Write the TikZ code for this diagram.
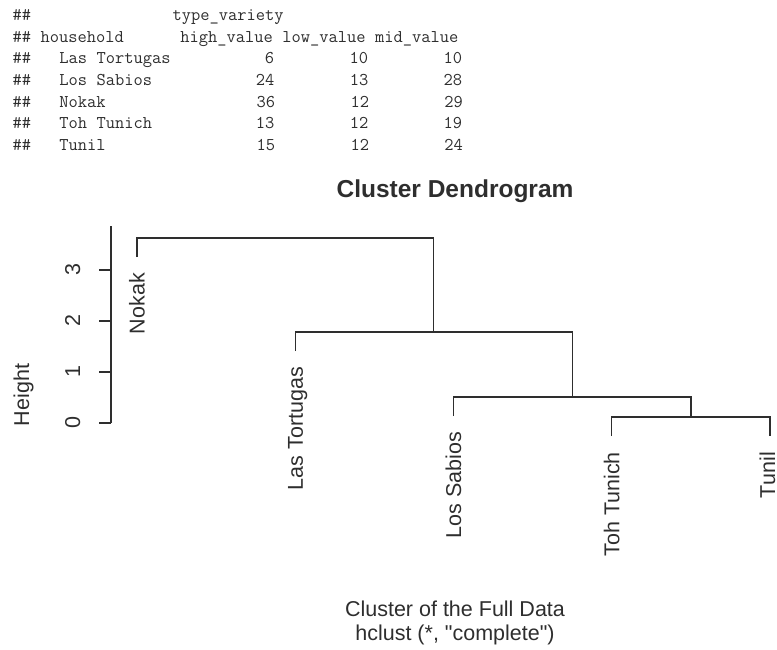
\documentclass[tikz,border=0pt]{standalone}
\usepackage{fontspec}
\setmainfont{Liberation Sans}[Ligatures=TeXOff]
\setmonofont{Latin Modern Mono}
\newcommand\colsp[1]{\hspace*{#1\dimexpr 0.525em\relax}}
\definecolor{ink}{gray}{0.18}
\tikzset{
  codeline/.style={anchor=base west, inner sep=0pt, text=ink,
    font=\fontsize{17.96}{21.67}\selectfont\ttfamily},
  leaflabel/.style={rotate=90, anchor=base east, inner sep=0pt, text=ink,
    font=\fontsize{21.5}{25}\selectfont},
  ticklabel/.style={rotate=90, anchor=base, inner sep=0pt, text=ink,
    font=\fontsize{21.5}{25}\selectfont},
  plaintext/.style={anchor=base, inner sep=0pt, text=ink,
    font=\fontsize{21.5}{25}\selectfont},
  branch/.style={draw=ink, line width=1.2pt},
}
\begin{document}
\begin{tikzpicture}[x=1pt,y=-1pt]
\useasboundingbox (0,0) rectangle (777,649);
% ---- code output ----
\node[codeline] (c1) at (12.5,20.5) {\#\#\colsp{15}type\_variety};
\node[codeline] (c2) at (12.5,42.2) {\#\#\colsp{1}household\colsp{6}high\_value\colsp{1}low\_value\colsp{1}mid\_value};
\node[codeline] (c3) at (12.5,63.9) {\#\#\colsp{3}Las\colsp{1}Tortugas\colsp{10}6\colsp{8}10\colsp{8}10};
\node[codeline] (c4) at (12.5,85.5) {\#\#\colsp{3}Los\colsp{1}Sabios\colsp{11}24\colsp{8}13\colsp{8}28};
\node[codeline] (c5) at (12.5,107.2) {\#\#\colsp{3}Nokak\colsp{16}36\colsp{8}12\colsp{8}29};
\node[codeline] (c6) at (12.5,128.9) {\#\#\colsp{3}Toh\colsp{1}Tunich\colsp{11}13\colsp{8}12\colsp{8}19};
\node[codeline] (c7) at (12.5,150.5) {\#\#\colsp{3}Tunil\colsp{16}15\colsp{8}12\colsp{8}24};
% ---- title ----
\node[anchor=base, inner sep=0pt, text=ink, font=\fontsize{24.5}{28}\selectfont\bfseries] (title) at (455,197) {Cluster Dendrogram};
% ---- axis ----
\coordinate (ax0) at (111,423);
\coordinate (axtop) at (111,226);
\draw[branch] (ax0) -- (axtop);
\foreach \h/\yy in {0/423,1/372,2/321,3/270}{
  \coordinate (t\h) at (111,\yy);
  \coordinate (tl\h) at (99,\yy);
  \draw[branch] (t\h) -- (tl\h);
  \node[ticklabel] (lab\h) at (80,\yy) {\h};
}
\node[ticklabel] (ylab) at (29,395) {Height};
% ---- leaves ----
\coordinate (nokak) at (137,257);
\coordinate (tort) at (295.25,351);
\coordinate (sab) at (453.5,416);
\coordinate (toh) at (611.75,436);
\coordinate (tun) at (770,436);
% ---- merges ----
\coordinate (m4) at (690.9,417);
\coordinate (m3) at (572.2,397);
\coordinate (m2) at (433.7,332);
\draw[branch] (toh) |- (m4) -| (tun);
\draw[branch] (sab) |- (m3) -| (m4);
\draw[branch] (tort) |- (m2) -| (m3);
\draw[branch] (nokak) |- (286,238) -| (m2);
% ---- leaf labels ----
\node[leaflabel] (lnok) at (144.5,273) {Nokak};
\node[leaflabel] (ltor) at (302.75,367) {Las Tortugas};
\node[leaflabel] (lsab) at (461,432) {Los Sabios};
\node[leaflabel] (ltoh) at (619.25,452) {Toh Tunich};
\node[leaflabel, text depth=0pt] (ltun) at (775,452) {Tunil};
% ---- x label / sub ----
\node[plaintext] (xlab) at (455,616) {Cluster of the Full Data};
\node[plaintext] (sub) at (455,640) {hclust (*, "complete")};
\end{tikzpicture}
\end{document}
